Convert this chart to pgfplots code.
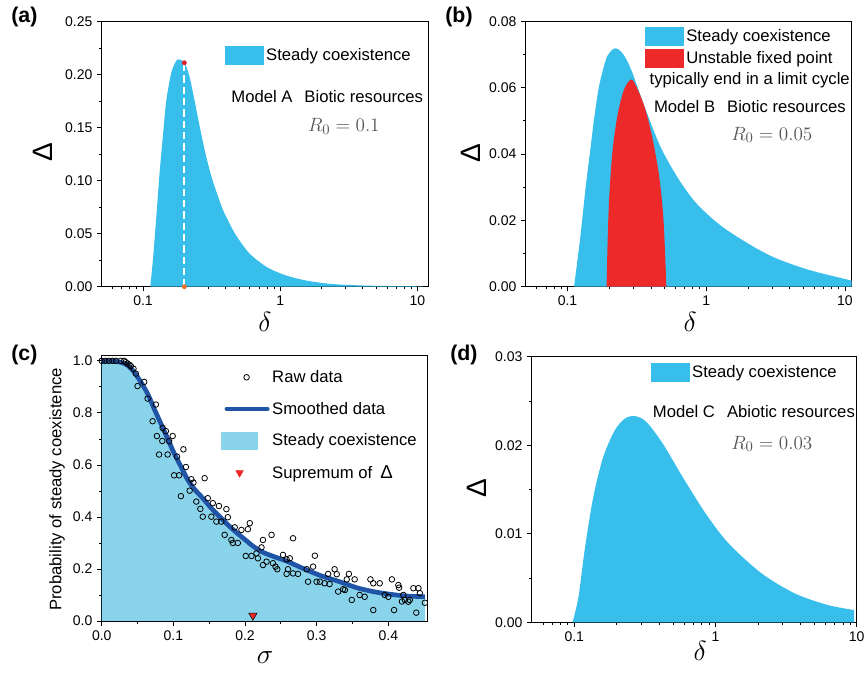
\documentclass[border=0pt]{standalone}
\usepackage{pgfplots}
\pgfplotsset{compat=1.18}
\usepackage{pgfplotstable}
\usepackage{fontspec}
\setmainfont{Liberation Sans}

\definecolor{skyc}{RGB}{56,190,234}
\definecolor{redc}{RGB}{237,41,41}
\definecolor{lightc}{RGB}{137,212,235}
\definecolor{fillbase}{RGB}{58,183,222}
\definecolor{smoothc}{RGB}{32,84,166}
\definecolor{dotred}{RGB}{228,30,38}
\definecolor{dotorange}{RGB}{240,112,40}
\definecolor{rgray}{RGB}{85,85,85}

\newcommand{\legfont}{\fontsize{12.5}{14}\selectfont}
\newcommand{\tickfont}{\fontsize{10.5}{12}\selectfont}

% Model A, biotic resources, R0 = 0.1
\pgfplotstableread{
d D
0.113 0
0.118 0.025
0.125 0.066
0.132 0.107
0.140 0.144
0.148 0.176
0.161 0.202
0.175 0.213
0.185 0.214
0.201 0.211
0.218 0.198
0.237 0.176
0.265 0.1445
0.292 0.120
0.322 0.100
0.377 0.0745
0.420 0.0615
0.476 0.0485
0.595 0.0315
0.787 0.0190
1.000 0.0126
1.230 0.0088
1.600 0.0055
2.200 0.0030
3.000 0.0018
4.700 0.0009
7.000 0.0006
10.90 0.0004
}\modelA

% Model B, biotic resources, R0 = 0.05
\pgfplotstableread{
d D
0.1115 0
0.1180 0.0080
0.1246 0.0161
0.1354 0.0302
0.1470 0.0422
0.1552 0.0503
0.1686 0.0603
0.1885 0.0683
0.2000 0.0704
0.2160 0.0718
0.2320 0.0716
0.2500 0.0703
0.2700 0.0680
0.2950 0.0643
0.3180 0.0605
0.3750 0.0523
0.4680 0.0422
0.6160 0.0332
0.8110 0.0261
1.0680 0.0211
1.4080 0.0171
2.1860 0.0121
3.2200 0.0085
5.5800 0.0050
10.800 0.0020
11.200 0.0019
}\modelBstable

\pgfplotstableread{
d D
0.1914 0
0.1937 0.0101
0.1990 0.0251
0.2104 0.0402
0.2285 0.0513
0.2550 0.0593
0.2896 0.0625
0.3260 0.0588
0.3650 0.0533
0.4075 0.0452
0.4550 0.0342
0.4885 0.0221
0.5053 0.0101
0.5160 0
}\modelBunstable

% Model C, abiotic resources, R0 = 0.03
\pgfplotstableread{
d D
0.0973 0
0.1072 0.0029
0.1194 0.00854
0.1366 0.0142
0.1606 0.0187
0.1938 0.0217
0.2278 0.0230
0.2677 0.0233
0.3230 0.02266
0.4227 0.0202
0.5837 0.01645
0.8511 0.0123
1.240 0.0089
2.120 0.00553
3.640 0.00327
6.220 0.00196
9.570 0.00139
}\modelC

% probability of steady coexistence versus sigma
\pgfplotstableread{
s p
0.000 1.000
0.005 1.000
0.010 1.000
0.015 1.000
0.020 1.000
0.0266 1.000
0.0313 1.000
0.0335 0.995
0.036 0.990
0.0385 0.985
0.0406 0.980
0.0443 0.970
0.0476 0.951
0.050 0.903
0.0593 0.919
0.064 0.855
0.071 0.768
0.0755 0.832
0.077 0.711
0.080 0.640
0.0845 0.692
0.085 0.742
0.0895 0.730
0.092 0.640
0.094 0.691
0.099 0.711
0.101 0.560
0.105 0.632
0.108 0.560
0.1105 0.480
0.114 0.660
0.1175 0.592
0.1227 0.501
0.125 0.545
0.128 0.532
0.132 0.459
0.1376 0.431
0.141 0.401
0.1436 0.549
0.148 0.472
0.153 0.401
0.155 0.453
0.160 0.382
0.1636 0.442
0.167 0.382
0.1716 0.331
0.174 0.430
0.176 0.399
0.181 0.3115
0.183 0.300
0.1856 0.360
0.190 0.300
0.195 0.350
0.201 0.250
0.204 0.353
0.2066 0.376
0.209 0.250
0.216 0.260
0.218 0.241
0.223 0.283
0.225 0.215
0.225 0.3115
0.230 0.228
0.237 0.331
0.239 0.222
0.2425 0.209
0.245 0.199
0.253 0.254
0.258 0.237
0.258 0.181
0.260 0.199
0.2625 0.241
0.267 0.318
0.267 0.183
0.274 0.181
0.286 0.199
0.288 0.151
0.295 0.209
0.2975 0.251
0.2999 0.151
0.3045 0.151
0.311 0.145
0.316 0.181
0.318 0.142
0.325 0.199
0.328 0.180
0.330 0.113
0.337 0.122
0.3394 0.119
0.342 0.160
0.345 0.181
0.349 0.081
0.353 0.160
0.360 0.100
0.367 0.093
0.375 0.160
0.379 0.145
0.379 0.042
0.388 0.145
0.395 0.100
0.400 0.093
0.405 0.160
0.408 0.042
0.414 0.138
0.415 0.128
0.419 0.075
0.421 0.100
0.423 0.081
0.428 0.074
0.430 0.081
0.435 0.126
0.439 0.032
0.442 0.126
0.444 0.107
0.451 0.070
}\rawtab

\pgfplotstableread{
s p
0.000 1.000
0.010 1.000
0.020 0.998
0.028 0.993
0.036 0.983
0.045 0.958
0.0545 0.919
0.064 0.874
0.073 0.817
0.0825 0.759
0.092 0.701
0.101 0.645
0.1105 0.594
0.120 0.543
0.130 0.505
0.141 0.472
0.1525 0.435
0.1646 0.401
0.176 0.370
0.188 0.340
0.200 0.313
0.211 0.288
0.2235 0.266
0.236 0.252
0.248 0.240
0.260 0.228
0.2835 0.199
0.307 0.173
0.330 0.153
0.3558 0.128
0.379 0.113
0.402 0.103
0.4257 0.096
0.451 0.0935
}\smoothtab

\pgfplotsset{
  panel/.style={
    scale only axis,
    axis line style={line width=0.6pt},
    tick align=outside,
    xtick pos=left, ytick pos=left,
    major tick length=3.5pt, minor tick length=2pt,
    every tick/.append style={line width=0.6pt, black},
    tick label style={font=\tickfont},
    scaled ticks=false,
    /pgf/number format/assume math mode=true,
    legend cell align=left,
    legend style={draw=none, fill=none, font=\legfont, inner sep=0pt},
  },
  logticks/.style={
    xtick={0.1,1,10}, xticklabels={0.1,1,10},
    minor xtick={0.06,0.07,0.08,0.09,0.2,0.3,0.4,0.5,0.6,0.7,0.8,0.9,2,3,4,5,6,7,8,9},
    minor y tick num=1,
    yticklabel style={/pgf/number format/fixed, /pgf/number format/fixed zerofill,
      /pgf/number format/precision=2},
    xlabel={\fontsize{22}{22}\selectfont$\delta$},
    ylabel={\fontsize{21}{21}\selectfont Δ},
  },
}

\begin{document}
\begin{tikzpicture}
\useasboundingbox (0,0) rectangle (648pt,504.75pt);

% (a)
\begin{axis}[xmode=log, panel, logticks, at={(76.3pt,289.7pt)}, anchor=south west,
  width=244.9pt, height=199pt, xmin=0.05, xmax=12, ymin=0, ymax=0.25,
  ytick={0,0.05,0.1,0.15,0.2,0.25}, clip mode=individual,
  xlabel style={at={(axis description cs:0.5,-0.133)}, anchor=center},
  ylabel style={at={(axis description cs:-0.18,0.509)}, anchor=center},
  legend style={at={(axis description cs:0.3775,0.871)}, anchor=west}]
\addplot[fill=skyc, draw=none, smooth, tension=0.5,
  legend image code/.code={\fill[skyc] (0pt,-7.1pt) rectangle (28.7pt,7.1pt);}]
  table[x=d, y=D] {\modelA} \closedcycle;
\addlegendentry{Steady coexistence}
\addplot[white, line width=1.5pt, dash pattern=on 5.5pt off 3pt, forget plot]
  coordinates {(0.2,0) (0.2,0.211)};
\addplot[only marks, mark=*, mark size=1.6pt, dotred, forget plot] coordinates {(0.2,0.211)};
\addplot[only marks, mark=*, mark size=1.6pt, dotorange, forget plot] coordinates {(0.2,0)};
\end{axis}

% (b)
\begin{axis}[xmode=log, panel, logticks, at={(394.3pt,289.7pt)}, anchor=south west,
  width=244.5pt, height=199pt, xmin=0.05, xmax=11.2, ymin=0, ymax=0.08,
  ytick={0,0.02,0.04,0.06,0.08},
  xlabel style={at={(axis description cs:0.504,-0.133)}, anchor=center},
  ylabel style={at={(axis description cs:-0.168,0.503)}, anchor=center},
  legend style={at={(axis description cs:0.366,0.98)}, anchor=north west,
    row sep=1.5pt}]
\addplot[fill=skyc, draw=none, smooth, tension=0.5,
  legend image code/.code={\fill[skyc] (0pt,-7.1pt) rectangle (28.7pt,7.1pt);}]
  table[x=d, y=D] {\modelBstable} \closedcycle;
\addlegendentry{Steady coexistence}
\addplot[fill=redc, draw=none, smooth, tension=0.5,
  legend image code/.code={\fill[redc] (0pt,-7.1pt) rectangle (28.7pt,7.1pt);}]
  table[x=d, y=D] {\modelBunstable} \closedcycle;
\addlegendentry{Unstable fixed point}
\end{axis}

% (c)
\begin{axis}[panel, at={(76.3pt,39pt)}, anchor=south west,
  width=244.5pt, height=199pt,
  xmin=0, xmax=0.455, ymin=0, ymax=1.02,
  xtick={0,0.1,0.2,0.3,0.4}, ytick={0,0.2,0.4,0.6,0.8,1.0},
  minor tick num=1,
  tick label style={/pgf/number format/fixed, /pgf/number format/fixed zerofill,
    /pgf/number format/precision=1},
  xlabel={\fontsize{20}{20}\selectfont$\sigma$},
  ylabel={Probability of steady coexistence},
  ylabel style={font=\legfont, at={(axis description cs:-0.137,0.496)}, anchor=center},
  xlabel style={at={(axis description cs:0.501,-0.139)}, anchor=center},
  legend style={at={(axis description cs:0.366,0.956)}, anchor=north west,
    row sep=9.2pt}]
\addlegendimage{legend image code/.code={
  \path[draw=none, fill=none] (-3.75pt,-6.25pt) rectangle (30.75pt,6.25pt);
  \draw[black, line width=0.6pt, mark=o, mark size=2.1pt] plot coordinates {(15pt,0pt)};}}
\addlegendentry{Raw data}
\addlegendimage{legend image code/.code={
  \path[draw=none, fill=none] (-3.75pt,-6.25pt) rectangle (30.75pt,6.25pt);
  \draw[smoothc, line width=3pt, line cap=round] (0pt,0pt) -- (30.75pt,0pt);}}
\addlegendentry{Smoothed data}
\addlegendimage{legend image code/.code={
  \path[draw=none, fill=none] (-3.75pt,-6.25pt) rectangle (30.75pt,6.25pt);
  \fill[lightc] (-3.75pt,-6.25pt) rectangle (23.25pt,6.25pt);}}
\addlegendentry{Steady coexistence}
\addlegendimage{legend image code/.code={
  \path[draw=none, fill=none] (-3.75pt,-6.25pt) rectangle (30.75pt,6.25pt);
  \draw[redc, mark=triangle*, mark size=3.3pt, mark options={rotate=180, draw=none, fill=redc}]
    plot coordinates {(9.75pt,0pt)};}}
\addlegendentry{Supremum of\hspace{6pt}{\fontsize{14}{14}\selectfont Δ}}
\addplot[only marks, mark=o, mark size=2.1pt, mark options={line width=0.6pt}, black,
  forget plot] table[x=s, y=p] {\rawtab};
\addplot[draw=none, fill=fillbase, fill opacity=0.6, smooth, forget plot]
  table[x=s, y=p] {\smoothtab} \closedcycle;
\addplot[smoothc, line width=3.5pt, line join=round, smooth, forget plot]
  table[x=s, y=p] {\smoothtab};
\addplot[only marks, mark=triangle*, mark size=3.6pt,
  mark options={rotate=180, draw=none, fill=redc}, forget plot]
  coordinates {(0.211,0.021)};
\end{axis}

% (d)
\begin{axis}[xmode=log, panel, logticks, at={(398.8pt,38pt)}, anchor=south west,
  width=243.75pt, height=199.2pt, xmin=0.05, xmax=10, ymin=0, ymax=0.03,
  ytick={0,0.01,0.02,0.03},
  xlabel style={at={(axis description cs:0.518,-0.108)}, anchor=center},
  ylabel style={at={(axis description cs:-0.169,0.505)}, anchor=center},
  legend style={at={(axis description cs:0.367,0.939)}, anchor=west}]
\addplot[fill=skyc, draw=none, smooth, tension=0.5,
  legend image code/.code={\fill[skyc] (0pt,-7.1pt) rectangle (28.7pt,7.1pt);}]
  table[x=d, y=D] {\modelC} \closedcycle;
\addlegendentry{Steady coexistence}
\end{axis}

% panel annotations
\node[anchor=west, font=\legfont] at (170pt,432.2pt) {Model A\hspace{9pt}Biotic resources};
\node[anchor=west, text=rgray, font=\fontsize{15}{15}\selectfont] at (227.5pt,409.7pt) {$R_0=0.1$};
\node[anchor=west, font=\legfont] at (483.75pt,444.75pt) {typically end in a limit cycle};
\node[anchor=west, font=\legfont] at (487pt,424.7pt) {Model B\hspace{9pt}Biotic resources};
\node[anchor=west, text=rgray, font=\fontsize{15}{15}\selectfont] at (545pt,403.5pt) {$R_0=0.05$};
\node[anchor=west, font=\legfont] at (486.2pt,196pt) {Model C\hspace{9pt}Abiotic resources};
\node[anchor=west, text=rgray, font=\fontsize{15}{15}\selectfont] at (545pt,171.75pt) {$R_0=0.03$};

\node[anchor=west, font=\fontsize{16}{16}\selectfont\bfseries] at (5pt,492pt) {(a)};
\node[anchor=west, font=\fontsize{16}{16}\selectfont\bfseries] at (330.5pt,492pt) {(b)};
\node[anchor=west, font=\fontsize{16}{16}\selectfont\bfseries] at (5pt,238.5pt) {(c)};
\node[anchor=west, font=\fontsize{16}{16}\selectfont\bfseries] at (334.2pt,238.5pt) {(d)};
\end{tikzpicture}
\end{document}
